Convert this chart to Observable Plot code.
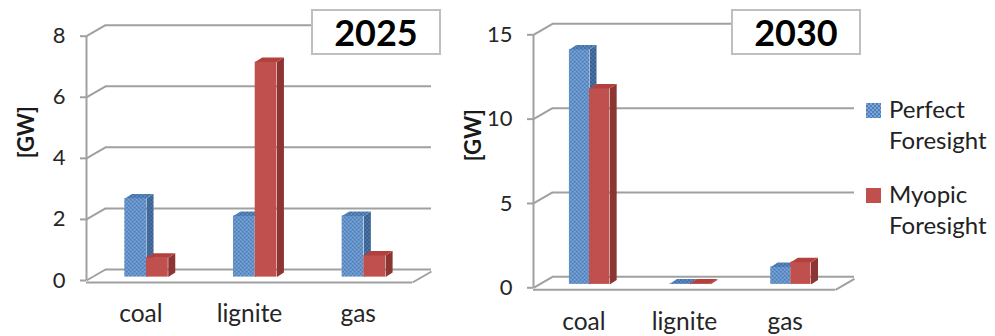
<!DOCTYPE html>
<html>
<head>
<meta charset="utf-8">
<script src="https://cdn.jsdelivr.net/npm/d3@7"></script>
<script src="https://cdn.jsdelivr.net/npm/@observablehq/plot@0.6"></script>
<style>
  html, body { margin: 0; padding: 0; background: #fff; }
  #wrap { position: relative; width: 995px; height: 336px; overflow: hidden; font-family: Lato, "Open Sans", sans-serif; }
  .panel { position: absolute; top: 0; }
  .tbox { position: absolute; top: 9px; width: 126px; height: 42px; border: 2px solid #bfbfbf; background: #fff;
          font: bold 36px Lato, sans-serif; color: #000; text-align: center; line-height: 43px; }
  .leg { position: absolute; left: 866px; font: 24px Lato, sans-serif; color: #222; line-height: 31px; }
  .leg .row { position: relative; padding-left: 23px; }
  .leg svg { position: absolute; left: 0; top: 10px; }
</style>
</head>
<body>
<svg width="0" height="0" style="position:absolute">
  <defs>
    <pattern id="blueFront" width="4" height="4" patternUnits="userSpaceOnUse">
      <rect width="4" height="4" fill="#4a7ebd"/>
      <circle cx="1" cy="1" r="0.85" fill="#b4cdeb"/>
      <circle cx="3" cy="3" r="0.85" fill="#b4cdeb"/>
    </pattern>
    <pattern id="blueSide" width="4" height="4" patternUnits="userSpaceOnUse">
      <rect width="4" height="4" fill="#365f91"/>
      <circle cx="1" cy="1" r="0.8" fill="#6d8fbb"/>
      <circle cx="3" cy="3" r="0.8" fill="#6d8fbb"/>
    </pattern>
    <pattern id="blueTop" width="4" height="4" patternUnits="userSpaceOnUse">
      <rect width="4" height="4" fill="#3f6fa8"/>
      <circle cx="1" cy="1" r="0.8" fill="#8fb0da"/>
      <circle cx="3" cy="3" r="0.8" fill="#8fb0da"/>
    </pattern>
  </defs>
</svg>
<div id="wrap">
  <div class="panel" id="p2025" style="left:0px"></div>
  <div class="panel" id="p2030" style="left:450px"></div>
  <div class="tbox" id="t2025" style="left:311px"></div>
  <div class="tbox" id="t2030" style="left:731px"></div>
  <div class="leg" id="legend" style="top:93px"></div>
</div>
<script>
// ---- data ----
const categories = ["coal", "lignite", "gas"];
const seriesNames = ["Perfect Foresight", "Myopic Foresight"];
const years = ["2025", "2030"];
const perfect2025 = [2.57, 2.0, 2.0];
const myopic2025 = [0.63, 7.04, 0.71];
const perfect2030 = [13.93, 0.05, 1.03];
const myopic2030 = [11.62, 0.05, 1.32];
const ticks2025 = [0, 2, 4, 6, 8];
const ticks2030 = [0, 5, 10, 15];
const yLabel = "[GW]";

// ---- styling ----
const gray = "#a0a0a0";
const fills = [
  {front: "url(#blueFront)", side: "url(#blueSide)", top: "url(#blueTop)"},
  {front: "#c0504d", side: "#8c3533", top: "#b4403d"}
];

function panel({perfect, myopic, ticks, ymax, width, marginLeft, marginRight, marginTop, marginBottom, labelDy}) {
  const H = 336;
  const n = categories.length;
  const pxX = (width - marginLeft - marginRight) / n;
  const pxY = (H - marginTop - marginBottom) / ymax;
  const DX = 19, DY = 11;      // wall depth (px)
  const BDX = 5.7, BDY = 3.4;  // bar plane offset (px)
  const SDX = 7, SDY = 4.5;    // bar depth (px)
  const sx = SDX / pxX, sy = SDY / pxY;
  const bars = [];
  categories.forEach((c, i) => {
    [perfect[i], myopic[i]].forEach((v, s) => {
      const x1 = i + 0.3 + 0.2 * s;
      bars.push({c, s, v, x1, x2: x1 + 0.2});
    });
  });
  const side = bars.flatMap((b, k) => [
    {k, s: b.s, x: b.x2, y: 0}, {k, s: b.s, x: b.x2, y: b.v},
    {k, s: b.s, x: b.x2 + sx, y: b.v + sy}, {k, s: b.s, x: b.x2 + sx, y: sy}
  ]);
  const top = bars.flatMap((b, k) => [
    {k, s: b.s, x: b.x1, y: b.v}, {k, s: b.s, x: b.x2, y: b.v},
    {k, s: b.s, x: b.x2 + sx, y: b.v + sy}, {k, s: b.s, x: b.x1 + sx, y: b.v + sy}
  ]);
  const barMarks = [0, 1].flatMap(s => [
    Plot.rect(bars.filter(b => b.s === s), {x1: "x1", x2: "x2", y1: 0, y2: "v", dx: BDX, dy: -BDY, fill: fills[s].front}),
    Plot.line(side.filter(p => p.s === s), {x: "x", y: "y", z: "k", dx: BDX, dy: -BDY, fill: fills[s].side, stroke: "none", curve: "linear-closed"}),
    Plot.line(top.filter(p => p.s === s), {x: "x", y: "y", z: "k", dx: BDX, dy: -BDY, fill: fills[s].top, stroke: "none", curve: "linear-closed"})
  ]);
  return Plot.plot({
    width, height: H, marginLeft, marginRight, marginTop, marginBottom,
    style: {fontFamily: "Lato, sans-serif", fontSize: "22px", background: "transparent", overflow: "visible"},
    x: {domain: [0, n], axis: null},
    y: {domain: [0, ymax]},
    marks: [
      Plot.ruleY(ticks, {x1: 0, x2: n, dx: DX, dy: -DY, stroke: gray, strokeWidth: 2}),
      Plot.link(ticks, {x1: 0, y1: d => d, x2: DX / pxX, y2: d => d + DY / pxY, stroke: gray, strokeWidth: 2}),
      Plot.ruleY([0], {x1: 0, x2: n, dy: 2, stroke: gray, strokeWidth: 2}),
      Plot.link([0], {x1: n, y1: 0, x2: n + DX / pxX, y2: DY / pxY, dy: 2, stroke: gray, strokeWidth: 2}),
      Plot.ruleX([0], {y1: 0, y2: ymax, stroke: gray, strokeWidth: 2}),
      Plot.axisY({ticks, tickSize: 6, tickPadding: 15, stroke: gray, strokeWidth: 2, fill: "#262626", fontSize: 22, label: null}),
      Plot.text([yLabel], {frameAnchor: "left", rotate: -90, dx: -60, fontWeight: "bold", fontSize: 22, fill: "#1a1a1a"}),
      ...barMarks,
      Plot.text(categories, {x: (d, i) => i + 0.5, y: 0, text: d => d, dy: labelDy, fontSize: 24.5, fill: "#262626"})
    ]
  });
}

document.getElementById("p2025").append(panel({
  perfect: perfect2025, myopic: myopic2025, ticks: ticks2025, ymax: 8,
  width: 450, marginLeft: 86, marginRight: 38, marginTop: 35.7, marginBottom: 56, labelDy: 34
}));
document.getElementById("p2030").append(panel({
  perfect: perfect2030, myopic: myopic2030, ticks: ticks2030, ymax: 15,
  width: 545, marginLeft: 83, marginRight: 160, marginTop: 34.3, marginBottom: 48.7, labelDy: 34
}));
document.getElementById("t2025").textContent = years[0];
document.getElementById("t2030").textContent = years[1];

// legend
const legend = document.getElementById("legend");
seriesNames.forEach((name, s) => {
  const row = document.createElement("div");
  row.className = "row";
  row.style.marginBottom = s === 0 ? "23px" : "0";
  const words = name.split(" ");
  row.innerHTML = `<svg width="15" height="15"><rect width="15" height="15" fill="${s === 0 ? "url(#blueFront)" : "#c0504d"}"/></svg>` +
    `<div>${words[0]}</div><div>${words.slice(1).join(" ")}</div>`;
  legend.append(row);
});
</script>
</body>
</html>
